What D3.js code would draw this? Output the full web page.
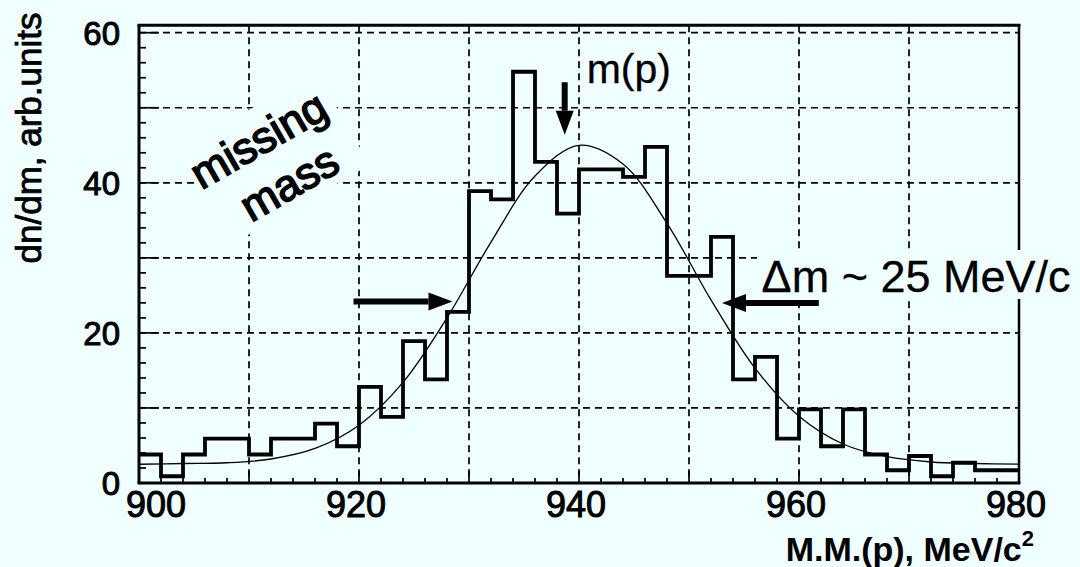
<!DOCTYPE html>
<html lang="en">
<head>
<meta charset="utf-8">
<title>Missing mass M.M.(p)</title>
<script src="https://cdn.jsdelivr.net/npm/d3@7"></script>
<style>
  body { margin: 0; background: #f0ffff; }
  svg { display: block; font-family: "Liberation Sans", Arial, Helvetica, sans-serif; }
</style>
</head>
<body>
<script>
// histogram bins (left edge, MeV/c^2) and their heights
var binStarts = [900, 902, 904, 906, 908, 910, 912, 914, 916, 918,
                 920, 922, 924, 926, 928, 930, 932, 934, 936, 938,
                 940, 942, 944, 946, 948, 950, 952, 954, 956, 958,
                 960, 962, 964, 966, 968, 970, 972, 974, 976, 978];
var binWidth = 2;
var counts = [3.8, 0.9, 3.8, 5.9, 5.9, 3.8, 5.9, 5.9, 7.9, 4.9,
              12.8, 8.8, 18.9, 13.8, 22.8, 38.9, 37.8, 54.8, 42.8, 35.9,
              41.8, 41.8, 40.8, 44.8, 27.6, 27.6, 32.8, 13.8, 16.8, 5.9,
              9.8, 4.9, 9.8, 3.8, 1.7, 3.6, 0.9, 2.7, 1.7, 1.7];

// fitted curve
var fitX = [900, 904, 908, 912, 916, 920, 924, 928, 932, 936, 940,
            944, 948, 952, 956, 960, 964, 968, 972, 976, 980];
var fitY = [2.5, 2.6, 2.7, 3.2, 4.6, 7.7, 13.4, 22.0, 32.1, 40.9, 45.0,
            42.5, 34.6, 24.4, 15.3, 8.9, 5.2, 3.5, 2.8, 2.6, 2.5];

var xTicks = [900, 920, 940, 960, 980];
var yTicks = [0, 20, 40, 60];
var xGrid = [910, 920, 930, 940, 950, 960, 970];
var yGrid = [10, 20, 30, 40, 50, 60];

// arrows: [x1, y1, x2, y2] in data units, tip at (x2, y2)
var arrows = [
    [938.7, 53.4, 938.7, 46.4],
    [919.5, 24.2, 928.5, 24.2],
    [961.8, 24.0, 953.0, 24.0]
];

var w = 1080, h = 567;
var bg = "#f0ffff";

var svg = d3.select("body").append("svg")
    .attr("width", w)
    .attr("height", h);

svg.append("rect").attr("width", w).attr("height", h).attr("fill", bg);

var xScale = d3.scaleLinear().domain([900, 980]).range([139, 1019]);
var yScale = d3.scaleLinear().domain([0, 61]).range([483, 25.2]);

// dashed grid
svg.selectAll("line.vg").data(xGrid).enter().append("line")
    .attr("class", "vg")
    .attr("x1", function(d) { return xScale(d); })
    .attr("x2", function(d) { return xScale(d); })
    .attr("y1", yScale(61)).attr("y2", yScale(0))
    .attr("stroke", "#000").attr("stroke-width", 1.7)
    .attr("stroke-dasharray", "7,5");
svg.selectAll("line.hg").data(yGrid).enter().append("line")
    .attr("class", "hg")
    .attr("x1", xScale(900)).attr("x2", xScale(980))
    .attr("y1", function(d) { return yScale(d); })
    .attr("y2", function(d) { return yScale(d); })
    .attr("stroke", "#000").attr("stroke-width", 1.7)
    .attr("stroke-dasharray", "7,5");

// minor ticks (every 2 units) and major ticks
var yMinor = d3.range(2, 61, 2);
svg.selectAll("line.ymt").data(yMinor).enter().append("line")
    .attr("x1", xScale(900))
    .attr("x2", function(d) { return xScale(900) + (d % 10 === 0 ? 20 : 7); })
    .attr("y1", function(d) { return yScale(d); })
    .attr("y2", function(d) { return yScale(d); })
    .attr("stroke", "#000").attr("stroke-width", 1.7);
var xMinor = d3.range(902, 980, 2);
svg.selectAll("line.xmt").data(xMinor).enter().append("line")
    .attr("x1", function(d) { return xScale(d); })
    .attr("x2", function(d) { return xScale(d); })
    .attr("y1", yScale(0))
    .attr("y2", function(d) { return yScale(0) - (d % 10 === 0 ? 12 : 5); })
    .attr("stroke", "#000").attr("stroke-width", 1.7);

// frame
svg.append("line").attr("x1", xScale(900) - 1.5).attr("x2", xScale(980) + 1.5)
    .attr("y1", yScale(61)).attr("y2", yScale(61))
    .attr("stroke", "#000").attr("stroke-width", 3);
svg.append("line").attr("x1", xScale(900) - 1.5).attr("x2", xScale(980) + 1.5)
    .attr("y1", yScale(0)).attr("y2", yScale(0))
    .attr("stroke", "#000").attr("stroke-width", 3);
svg.append("line").attr("x1", xScale(900)).attr("x2", xScale(900))
    .attr("y1", yScale(61)).attr("y2", yScale(0))
    .attr("stroke", "#000").attr("stroke-width", 3);
svg.append("line").attr("x1", xScale(980)).attr("x2", xScale(980))
    .attr("y1", yScale(61)).attr("y2", yScale(0))
    .attr("stroke", "#000").attr("stroke-width", 2.5);

// "missing mass" label with a blank box behind it
var mm = svg.append("g").attr("transform", "translate(266,153) rotate(-30)");
mm.append("rect").attr("x", -76).attr("y", -46).attr("width", 160).attr("height", 108)
    .attr("fill", bg);
mm.append("text").attr("x", 0).attr("y", 0).attr("text-anchor", "middle")
    .attr("font-size", 44).attr("stroke", "#000").attr("stroke-width", 1.6)
    .text("missing");
mm.append("text").attr("x", 5).attr("y", 53).attr("text-anchor", "middle")
    .attr("font-size", 44).attr("stroke", "#000").attr("stroke-width", 1.6)
    .text("mass");

// box behind the width label
svg.append("rect").attr("x", 757).attr("y", 250).attr("width", 322).attr("height", 49)
    .attr("fill", bg);

// fit curve
var curve = d3.line()
    .x(function(d) { return xScale(d[0]); })
    .y(function(d) { return yScale(d[1]); })
    .curve(d3.curveCatmullRom);
svg.append("path")
    .datum(fitX.map(function(x, i) { return [x, fitY[i]]; }))
    .attr("d", curve)
    .attr("fill", "none").attr("stroke", "#000").attr("stroke-width", 1.3);

// histogram as a step line
var stepPts = binStarts.map(function(x, i) { return [x, counts[i]]; });
stepPts.push([binStarts[binStarts.length - 1] + binWidth, counts[counts.length - 1]]);
var step = d3.line()
    .x(function(d) { return xScale(d[0]); })
    .y(function(d) { return yScale(d[1]); })
    .curve(d3.curveStepAfter);
svg.append("path")
    .datum(stepPts)
    .attr("d", step)
    .attr("fill", "none").attr("stroke", "#000").attr("stroke-width", 3.8)
    .attr("stroke-linejoin", "miter");

// arrows
arrows.forEach(function(a) {
    var x1 = xScale(a[0]), y1 = yScale(a[1]), x2 = xScale(a[2]), y2 = yScale(a[3]);
    var dx = x2 - x1, dy = y2 - y1, len = Math.sqrt(dx * dx + dy * dy);
    var ux = dx / len, uy = dy / len;
    var headLen = 24, headW = 9;
    var bx = x2 - ux * headLen, by = y2 - uy * headLen;
    svg.append("line").attr("x1", x1).attr("y1", y1).attr("x2", bx).attr("y2", by)
        .attr("stroke", "#000").attr("stroke-width", 6);
    svg.append("path")
        .attr("d", "M" + x2 + "," + y2 +
                   "L" + (bx - uy * headW) + "," + (by + ux * headW) +
                   "L" + (bx + uy * headW) + "," + (by - ux * headW) + "Z")
        .attr("fill", "#000");
});

// annotations
svg.append("text").attr("x", xScale(940.7)).attr("y", yScale(53.3))
    .attr("font-size", 41).attr("stroke", "#000").attr("stroke-width", 0.3)
    .text("m(p)");
svg.append("text").attr("x", xScale(956.6)).attr("y", yScale(25.5))
    .attr("font-size", 45).attr("stroke", "#000").attr("stroke-width", 0.3)
    .text("\u0394m ~ 25 MeV/c");

// tick labels
svg.selectAll("text.xt").data(xTicks).enter().append("text")
    .attr("x", function(d) { return xScale(d) + (d === 900 ? 17 : -3); })
    .attr("y", 517)
    .attr("text-anchor", "middle")
    .attr("font-size", 36).attr("stroke", "#000").attr("stroke-width", 1)
    .text(function(d) { return d; });
svg.selectAll("text.yt").data(yTicks).enter().append("text")
    .attr("x", 120)
    .attr("y", function(d) { return yScale(d) + 12; })
    .attr("text-anchor", "end")
    .attr("font-size", 33).attr("stroke", "#000").attr("stroke-width", 1)
    .text(function(d) { return d; });

// axis titles
var xt = svg.append("text").attr("x", 1034).attr("y", 561)
    .attr("text-anchor", "end").attr("font-size", 34).attr("font-weight", "bold");
xt.append("tspan").text("M.M.(p), MeV/c");
xt.append("tspan").attr("font-size", 22).attr("dy", -15).text("2");

svg.append("text")
    .attr("transform", "translate(41,138) rotate(-90)")
    .attr("text-anchor", "middle")
    .attr("font-size", 35).attr("stroke", "#000").attr("stroke-width", 0.8)
    .text("dn/dm, arb.units");
</script>
</body>
</html>
